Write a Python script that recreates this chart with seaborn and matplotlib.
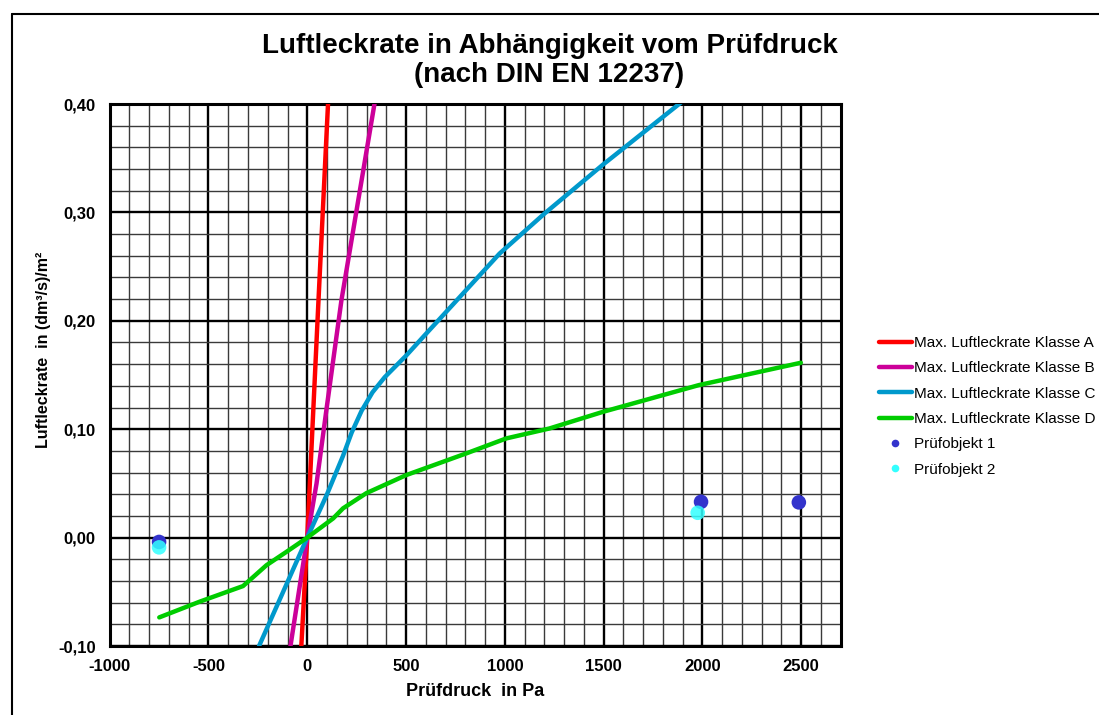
import matplotlib
matplotlib.use("Agg")
import matplotlib.pyplot as plt
import seaborn as sns
import pandas as pd
from matplotlib.ticker import FuncFormatter, MultipleLocator
from matplotlib.lines import Line2D

# ---- data ----
klasse_a_p = [-30, 0, 55, 105, 115]
klasse_a_v = [-0.10, 0.0, 0.212, 0.40, 0.44]

klasse_b_p = [-85, 0, 47, 97, 173, 340, 360]
klasse_b_v = [-0.10, 0.0, 0.050, 0.118, 0.219, 0.40, 0.42]

klasse_c_p = [-244, 0, 100, 180, 225, 275, 330, 392, 501, 611, 737, 973, 1201, 1496, 1875, 1950]
klasse_c_v = [-0.10, 0.0, 0.040, 0.075, 0.097, 0.117, 0.134, 0.148, 0.168, 0.190, 0.215, 0.262, 0.299, 0.344, 0.399, 0.41]

klasse_d_p = [-749, -543, -325, -206, -105, 0, 131, 181, 299, 501, 805, 1007, 1226, 1496, 1982, 2498]
klasse_d_v = [-0.0736, -0.059, -0.0447, -0.0254, -0.0131, 0.0, 0.0177, 0.027, 0.041, 0.0577, 0.0777, 0.0915, 0.1007, 0.116, 0.1407, 0.1613]

obj1_p = [-750, 1993, 2488]
obj1_v = [-0.004, 0.033, 0.0325]
obj2_p = [-750, 1976]
obj2_v = [-0.009, 0.0229]

series_names = ["Max. Luftleckrate Klasse A", "Max. Luftleckrate Klasse B",
                "Max. Luftleckrate Klasse C", "Max. Luftleckrate Klasse D"]
point_names = ["Prüfobjekt 1", "Prüfobjekt 2"]
x_ticks = [-1000, -500, 0, 500, 1000, 1500, 2000, 2500]
y_ticks = [-0.10, 0.0, 0.10, 0.20, 0.30, 0.40]

line_colors = ["#FF0000", "#CC0099", "#0099CC", "#00CC00"]
point_colors = ["#3333CC", "#33FFFF"]

# ---- figure ----
sns.set_theme(style="white")
plt.rcParams["font.family"] = ["Liberation Sans", "DejaVu Sans"]
plt.rcParams["text.color"] = "black"
plt.rcParams["axes.labelcolor"] = "black"

fig = plt.figure(figsize=(10.99, 7.15), dpi=100)
ax = fig.add_axes([0.0998, 0.0965, 0.765 - 0.0998, 0.8545 - 0.0965])

ax.set_xlim(-1000, 2700)
ax.set_ylim(-0.10, 0.40)

# grid
ax.xaxis.set_major_locator(MultipleLocator(500))
ax.xaxis.set_minor_locator(MultipleLocator(100))
ax.yaxis.set_major_locator(MultipleLocator(0.1))
ax.yaxis.set_minor_locator(MultipleLocator(0.02))
ax.grid(which="minor", color="#3a3a3a", lw=1.0)
ax.grid(which="major", color="black", lw=1.7)
ax.set_axisbelow(True)

pairs = [(klasse_a_p, klasse_a_v), (klasse_b_p, klasse_b_v),
         (klasse_c_p, klasse_c_v), (klasse_d_p, klasse_d_v)]
for (px, vy), name, col in zip(pairs, series_names, line_colors):
    df = pd.DataFrame({"p": px, "v": vy})
    sns.lineplot(data=df, x="p", y="v", sort=False, color=col, lw=3.2,
                 label=name, ax=ax, zorder=3, legend=False)

for (px, vy), name, col, a in zip([(obj1_p, obj1_v), (obj2_p, obj2_v)],
                                  point_names, point_colors, [1.0, 0.85]):
    df = pd.DataFrame({"p": px, "v": vy})
    sns.scatterplot(data=df, x="p", y="v", color=col, s=110, edgecolor="none",
                    alpha=a, ax=ax, zorder=4, legend=False)

for s in ax.spines.values():
    s.set_color("black")
    s.set_linewidth(2.2)
    s.set_visible(True)

ax.set_xticks(x_ticks)
ax.set_yticks(y_ticks)
ax.yaxis.set_major_formatter(FuncFormatter(lambda v, _: f"{v:.2f}".replace(".", ",").replace("-0,00", "0,00")))
ax.xaxis.set_major_formatter(FuncFormatter(lambda v, _: f"{int(round(v))}"))
ax.tick_params(which="both", length=0, labelsize=12, colors="black")
ax.tick_params(axis="y", pad=10)
ax.tick_params(axis="x", pad=9)
for lab in ax.get_xticklabels() + ax.get_yticklabels():
    lab.set_fontweight("bold")

ax.set_xlabel("Prüfdruck  in Pa", fontsize=13, fontweight="bold", labelpad=7)
ax.set_ylabel("Luftleckrate  in (dm³/s)/m²", fontsize=11.5, fontweight="bold")
ax.yaxis.set_label_coords((51 - 110) / 731, (646 - 350) / 542)

fig.text(0.5, 1 - 46 / 715, "Luftleckrate in Abhängigkeit vom Prüfdruck",
         ha="center", va="center", fontsize=20, fontweight="bold")
fig.text(0.5, 1 - 75 / 715, "(nach DIN EN 12237)",
         ha="center", va="center", fontsize=20, fontweight="bold")

# legend
handles = [Line2D([], [], color=c, lw=3.2) for c in line_colors]
handles += [Line2D([], [], ls="none", marker="o", markersize=5.5, markeredgecolor="none", color=c)
            for c in point_colors]
fig.legend(handles, series_names + point_names, loc="upper left",
           bbox_to_anchor=(879 / 1099, 1 - 336 / 715),
           frameon=False, fontsize=11, handlelength=2.15, handletextpad=0.12,
           labelspacing=0.74, borderpad=0, borderaxespad=0)

# outer border (top and left visible)
fig.add_artist(Line2D([12 / 1099, 12 / 1099], [0, 1 - 14 / 715], color="black", lw=1.5))
fig.add_artist(Line2D([12 / 1099, 1.0], [1 - 14 / 715, 1 - 14 / 715], color="black", lw=1.5))

fig.savefig("out.png", dpi=100)
